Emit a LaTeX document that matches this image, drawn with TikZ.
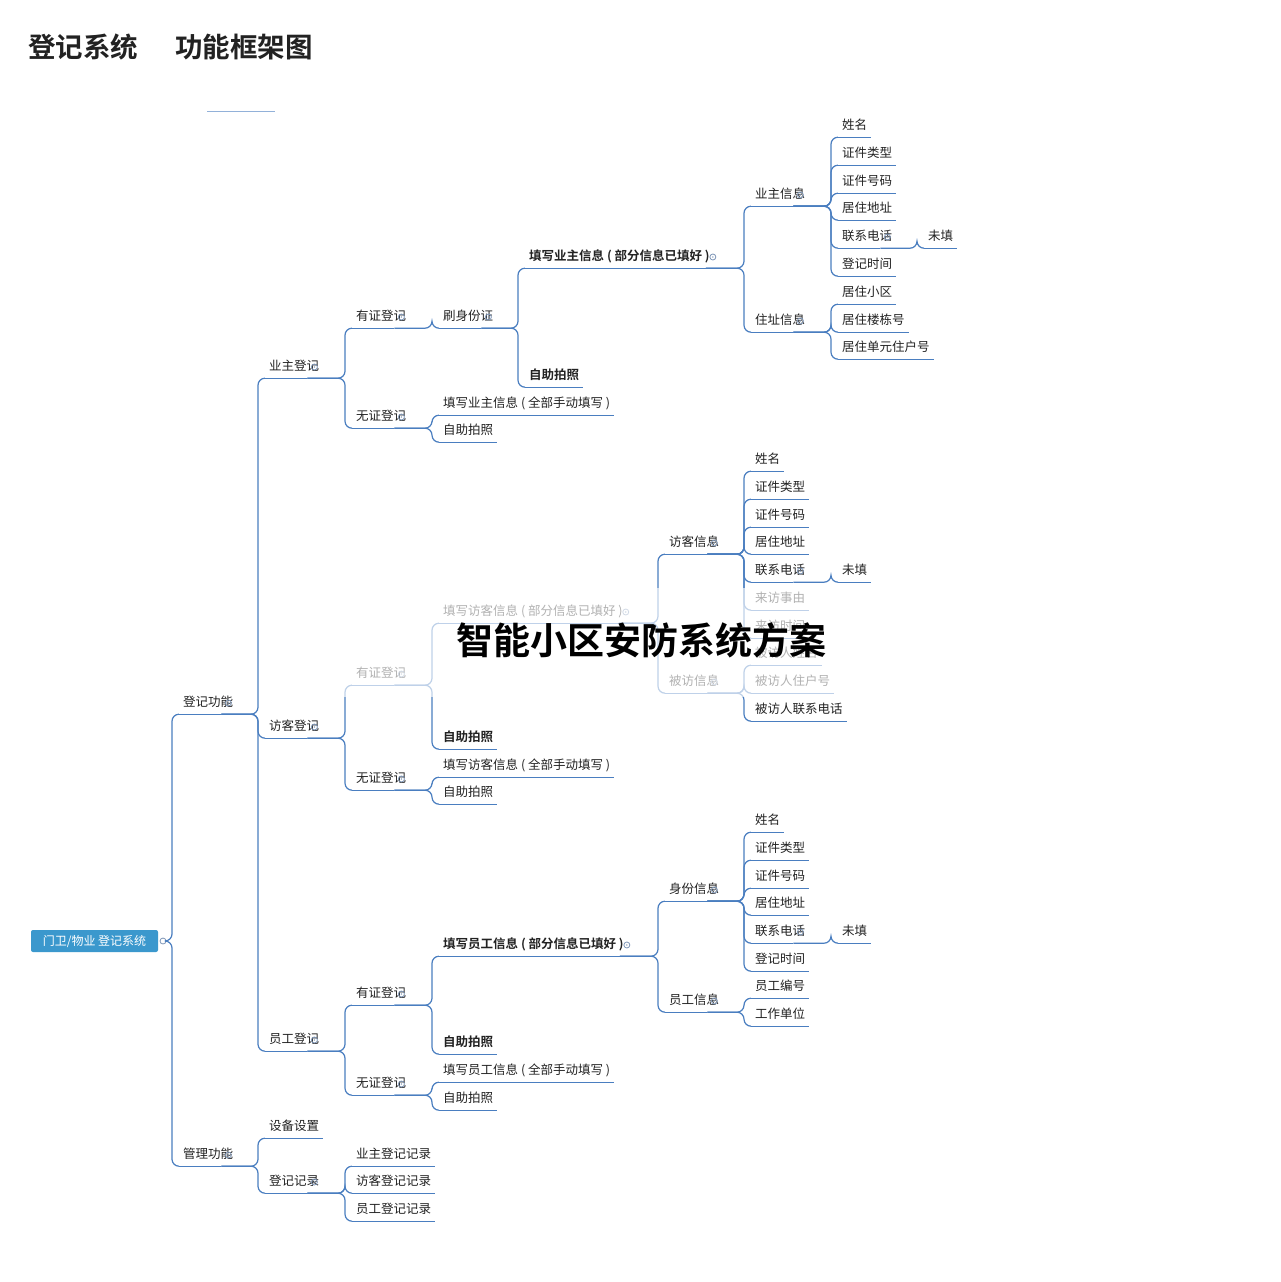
\documentclass[tikz,border=0pt]{standalone}
\usepackage{fontspec}
\setmainfont{Noto Sans CJK SC}[BoldFont=* Bold]
\definecolor{ln}{HTML}{4A7EC0}
\definecolor{tx}{HTML}{222222}
\definecolor{cc}{HTML}{7F97B8}
\tikzset{
  mm/.style={anchor=west,inner xsep=4pt,inner ysep=4.5pt,text height=10pt,text depth=3pt,font=\fontsize{12.5}{14}\selectfont,text=tx},
  ul/.style={ln,line width=1.4pt},
  conn/.style={ln,line width=1.2pt,rounded corners=7pt},
  circ/.style={cc,line width=0.8pt},
  bnode/.style={font=\fontsize{12.5}{14}\selectfont\bfseries}
}
\newcommand\mmleaf[4][]{\node[mm,#1] (#2) at (#3) {#4\hspace{6pt}}; \draw[ul] (#2.south west) -- (#2.south east);}
\newcommand\mmpar[4][]{\node[mm,#1] (#2) at (#3) {#4\hspace{20pt}}; \draw[ul] (#2.south west) -- ([xshift=-16pt]#2.south east); \draw[circ] ([xshift=-9pt]#2.east) circle (3pt); \fill[cc] ([xshift=-9pt]#2.east) circle (0.8pt);}
\newcommand\cn[2]{\draw[conn] ([xshift=-16pt]#1.south east) -| ([xshift=-7pt]#2.south west) -- (#2.south west);}
\begin{document}
\begin{tikzpicture}[x=1pt,y=-1pt]
\useasboundingbox[fill=white] (0,0) rectangle (1280,1282);
% title
\node[anchor=west,font=\fontsize{27.5}{30}\selectfont\bfseries,text=tx,inner sep=0] (t1) at (28,47) {登记系统};
\node[anchor=west,font=\fontsize{27.5}{30}\selectfont\bfseries,text=tx,inner sep=0] (t2) at (175,47) {功能框架图};
\draw[ln!60,line width=0.8pt] (207,111) -- (275,111);
% root
\node[fill=ln!80!cyan,text=white,rounded corners=2pt,minimum width=127pt,minimum height=22pt,font=\fontsize{12}{14}\selectfont,inner sep=2pt] (root) at (94.5,941) {门卫/物业 登记系统};
\draw[circ] (163,941) circle (3pt);
\mmpar{f1}{179,703}{登记功能}
\mmpar{f2}{179,1155}{管理功能}
\draw[conn] ([xshift=8pt]root.east) -| ([xshift=-7pt]f1.south west) -- (f1.south west);
\draw[conn] ([xshift=8pt]root.east) -| ([xshift=-7pt]f2.south west) -- (f2.south west);
% level 2
\mmpar{yz}{265,367}{业主登记}
\mmpar{fk}{265,727}{访客登记}
\mmpar{yg}{265,1040}{员工登记}
\cn{f1}{yz}\cn{f1}{fk}\cn{f1}{yg}
\mmleaf{sb}{265,1127}{设备设置}
\mmpar{jl}{265,1182}{登记记录}
\cn{f2}{sb}\cn{f2}{jl}
\mmleaf{jl1}{352,1155}{业主登记记录}
\mmleaf{jl2}{352,1182}{访客登记记录}
\mmleaf{jl3}{352,1210}{员工登记记录}
\cn{jl}{jl1}\cn{jl}{jl2}\cn{jl}{jl3}
% owner
\mmpar{ya}{352,317}{有证登记}
\mmpar{yb}{352,417}{无证登记}
\cn{yz}{ya}\cn{yz}{yb}
\mmpar{ysf}{439,317}{刷身份证}
\cn{ya}{ysf}
\mmpar[bnode]{ytx}{525,257}{填写业主信息 ( 部分信息已填好 )\hspace{8pt}}
\mmleaf[bnode]{ypz}{525,376}{自助拍照}
\cn{ysf}{ytx}\cn{ysf}{ypz}
\mmpar{yzx}{751,195}{业主信息}
\mmpar{yzz}{751,321}{住址信息}
\cn{ytx}{yzx}\cn{ytx}{yzz}
\mmleaf{y1}{838,126}{姓名}
\mmleaf{y2}{838,154}{证件类型}
\mmleaf{y3}{838,182}{证件号码}
\mmleaf{y4}{838,209}{居住地址}
\mmpar{y5}{838,237}{联系电话}
\mmleaf{y6}{838,265}{登记时间}
\cn{yzx}{y1}\cn{yzx}{y2}\cn{yzx}{y3}\cn{yzx}{y4}\cn{yzx}{y5}\cn{yzx}{y6}
\mmleaf{y5a}{924,237}{未填}
\cn{y5}{y5a}
\mmleaf{z1}{838,293}{居住小区}
\mmleaf{z2}{838,321}{居住楼栋号}
\mmleaf{z3}{838,348}{居住单元住户号}
\cn{yzz}{z1}\cn{yzz}{z2}\cn{yzz}{z3}
\mmleaf{yb1}{439,404}{填写业主信息 ( 全部手动填写 )}
\mmleaf{yb2}{439,431}{自助拍照}
\cn{yb}{yb1}\cn{yb}{yb2}
% visitor
\mmpar{fa}{352,674}{有证登记}
\mmpar{fb}{352,779}{无证登记}
\cn{fk}{fa}\cn{fk}{fb}
\mmpar{ftx}{439,612}{填写访客信息 ( 部分信息已填好 )\hspace{8pt}}
\mmleaf[bnode]{fpz}{439,738}{自助拍照}
\cn{fa}{ftx}\cn{fa}{fpz}
\mmpar{fkx}{665,543}{访客信息}
\mmpar{bfx}{665,682}{被访信息}
\cn{ftx}{fkx}\cn{ftx}{bfx}
\mmleaf{v1}{751,460}{姓名}
\mmleaf{v2}{751,488}{证件类型}
\mmleaf{v3}{751,516}{证件号码}
\mmleaf{v4}{751,543}{居住地址}
\mmpar{v5}{751,571}{联系电话}
\mmleaf{v6}{751,599}{来访事由}
\mmleaf{v7}{751,627}{来访时间}
\cn{fkx}{v1}\cn{fkx}{v2}\cn{fkx}{v3}\cn{fkx}{v4}\cn{fkx}{v5}\cn{fkx}{v6}\cn{fkx}{v7}
\mmleaf{v5a}{838,571}{未填}
\cn{v5}{v5a}
\mmleaf{w1}{751,654}{被访人姓名}
\mmleaf{w2}{751,682}{被访人住户号}
\mmleaf{w3}{751,710}{被访人联系电话}
\cn{bfx}{w1}\cn{bfx}{w2}\cn{bfx}{w3}
\mmleaf{fb1}{439,766}{填写访客信息 ( 全部手动填写 )}
\mmleaf{fb2}{439,793}{自助拍照}
\cn{fb}{fb1}\cn{fb}{fb2}
% employee
\mmpar{ga}{352,994}{有证登记}
\mmpar{gb}{352,1084}{无证登记}
\cn{yg}{ga}\cn{yg}{gb}
\mmpar[bnode]{gtx}{439,945}{填写员工信息 ( 部分信息已填好 )\hspace{8pt}}
\mmleaf[bnode]{gpz}{439,1043}{自助拍照}
\cn{ga}{gtx}\cn{ga}{gpz}
\mmpar{sfx}{665,890}{身份信息}
\mmpar{ygx}{665,1001}{员工信息}
\cn{gtx}{sfx}\cn{gtx}{ygx}
\mmleaf{e1}{751,821}{姓名}
\mmleaf{e2}{751,849}{证件类型}
\mmleaf{e3}{751,877}{证件号码}
\mmleaf{e4}{751,904}{居住地址}
\mmpar{e5}{751,932}{联系电话}
\mmleaf{e6}{751,960}{登记时间}
\cn{sfx}{e1}\cn{sfx}{e2}\cn{sfx}{e3}\cn{sfx}{e4}\cn{sfx}{e5}\cn{sfx}{e6}
\mmleaf{e5a}{838,932}{未填}
\cn{e5}{e5a}
\mmleaf{g1}{751,987}{员工编号}
\mmleaf{g2}{751,1015}{工作单位}
\cn{ygx}{g1}\cn{ygx}{g2}
\mmleaf{gb1}{439,1071}{填写员工信息 ( 全部手动填写 )}
\mmleaf{gb2}{439,1099}{自助拍照}
\cn{gb}{gb1}\cn{gb}{gb2}
% fade band and watermark
\fill[white,opacity=0.65] (340,588) rectangle (880,697);
\node[font=\fontsize{37}{40}\selectfont\bfseries,text=black,inner sep=0] (wm) at (641,640) {智能小区安防系统方案};
\end{tikzpicture}
\end{document}
